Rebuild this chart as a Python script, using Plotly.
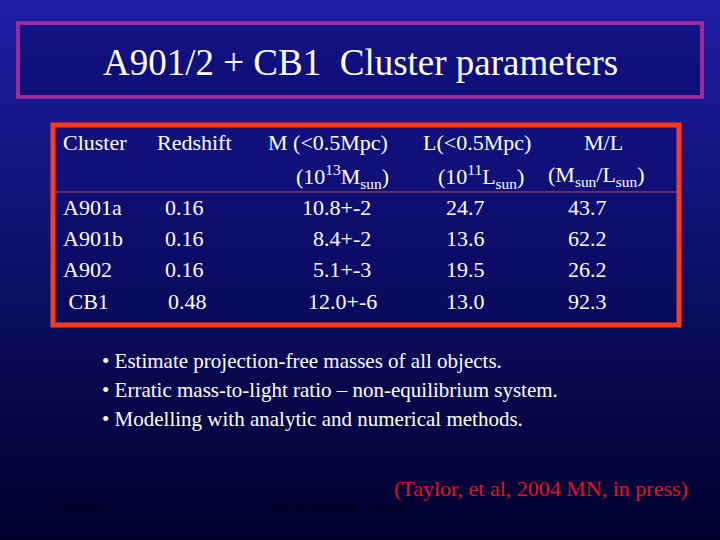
import plotly.graph_objects as go

title = "A901/2 + CB1  Cluster parameters"
headers = ["Cluster", "Redshift", "M (&lt;0.5Mpc)", "L(&lt;0.5Mpc)", "M/L"]
units = ["", "", "(10<sup>13</sup>M<sub>sun</sub>)", "(10<sup>11</sup>L<sub>sun</sub>)",
         "(M<sub>sun</sub>/L<sub>sun</sub>)"]
clusters = ["A901a", "A901b", "A902", " CB1"]
redshift = ["0.16", "0.16", "0.16", "0.48"]
mass = ["10.8+-2", "8.4+-2", "5.1+-3", "12.0+-6"]
lum = ["24.7", "13.6", "19.5", "13.0"]
ml = ["43.7", "62.2", "26.2", "92.3"]
bullets = [
    "• Estimate projection-free masses of all objects.",
    "• Erratic mass-to-light ratio – non-equilibrium system.",
    "• Modelling with analytic and numerical methods.",
]
citation = "(Taylor, et al, 2004 MN, in press)"
footer = ["09/03/04", "ESLAB Symposium, Pasadena"]

FONT = "Times New Roman"
fig = go.Figure()

# background gradient
n = 60
for i in range(n):
    t = i / (n - 1)
    r = int(30 * (1 - t))
    g = int(30 * (1 - t))
    b = int(165 * (1 - t) + 45 * t)
    fig.add_shape(type="rect", xref="x", yref="y", x0=0, x1=720,
                  y0=540 * i / n, y1=540 * (i + 1) / n + 1,
                  fillcolor=f"rgb({r},{g},{b})", line_width=0, layer="below")

fig.add_shape(type="rect", x0=18, x1=702, y0=23, y1=97,
              line=dict(color="#9a2a9a", width=4), fillcolor="rgba(0,0,80,0.35)")
fig.add_shape(type="rect", x0=53, x1=679, y0=125, y1=325,
              line=dict(color="#ff3a1a", width=5), fillcolor="rgba(0,0,90,0.2)")
fig.add_shape(type="line", x0=55, x1=677, y0=192, y1=192,
              line=dict(color="#c05070", width=1))

def txt(x, y, s, size=22, color="white", anchor="left"):
    fig.add_annotation(x=x, y=y, text=s, showarrow=False, xanchor=anchor,
                       yanchor="middle", font=dict(family=FONT, size=size, color=color))

txt(360, 62, title, size=37, anchor="center")

hx = [61, 155, 266, 421, 603]
for i, h in enumerate(headers):
    txt(hx[i], 142, h, anchor="center" if i == 4 else "left")
ux = [0, 0, 342, 481, 596]
for i, u in enumerate(units):
    if u:
        txt(ux[i], 176, u, anchor="center")

rows_y = [207, 238, 269, 301]
for k, y in enumerate(rows_y):
    txt(61, y, clusters[k])
    txt(163 if k < 3 else 166, y, redshift[k])
    txt(342 if k else 336, y, mass[k], anchor="center")
    txt(465, y, lum[k], anchor="center")
    txt(587, y, ml[k], anchor="center")

for i, b in enumerate(bullets):
    txt(100, 361 + i * 29, b, size=21)

txt(690, 488, citation, size=22, color="#e0141e", anchor="right")
txt(60, 507, footer[0], size=11, color="#000018")
txt(270, 507, footer[1], size=11, color="#000018")

fig.update_layout(
    width=720, height=540, margin=dict(l=0, r=0, t=0, b=0),
    paper_bgcolor="#000040", plot_bgcolor="#000040", showlegend=False,
    xaxis=dict(range=[0, 720], visible=False, fixedrange=True),
    yaxis=dict(range=[540, 0], visible=False, fixedrange=True),
)
fig.write_html("out.html", config={"displayModeBar": False},
               post_script="document.body.style.margin='0';"
                           "document.body.style.background='#000040';")
